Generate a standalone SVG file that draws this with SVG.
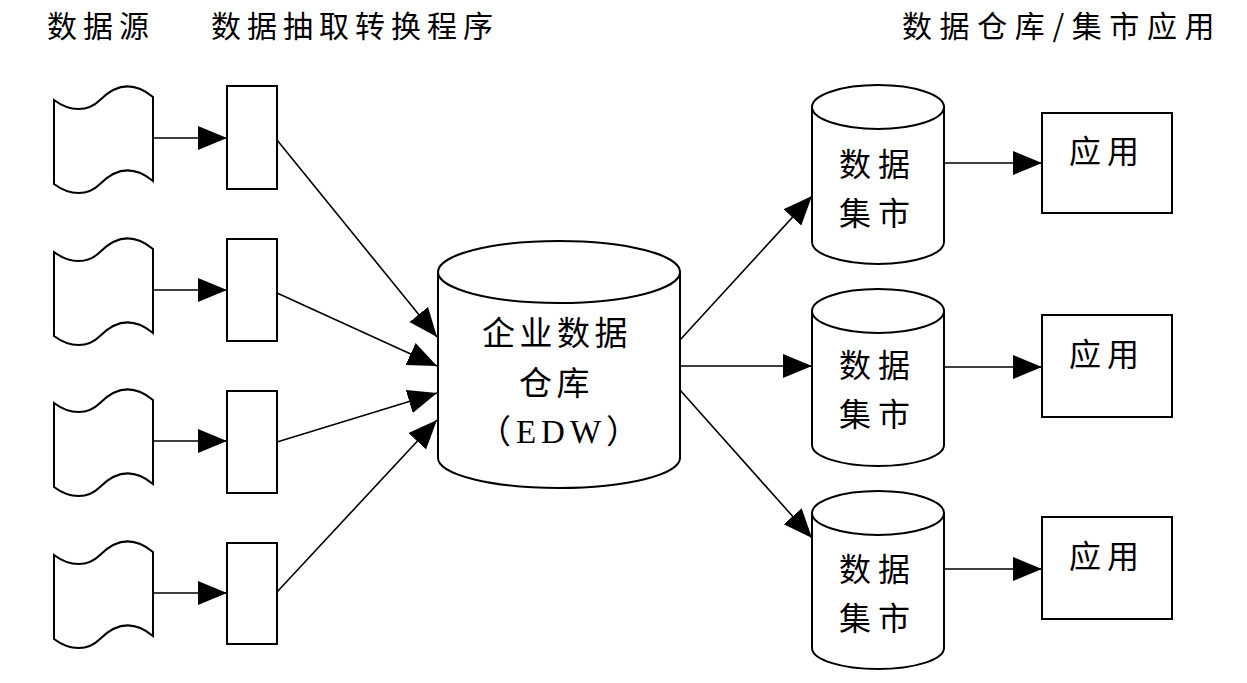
<svg xmlns="http://www.w3.org/2000/svg" xmlns:xlink="http://www.w3.org/1999/xlink" width="1247" height="683" viewBox="0 0 1247 683">
<style>
.shape{fill:#fff;stroke:#000;stroke-width:2}
.conn{fill:none;stroke:#000;stroke-width:1.6;marker-end:url(#arr)}
.t{font-family:"Noto Sans CJK SC","Noto Sans",sans-serif;fill:#000}
.title{font-size:30px;letter-spacing:6px}
.big{font-size:33px;letter-spacing:4.5px}
.mt{font-size:32px;letter-spacing:7px}
.app{font-size:32px;letter-spacing:6px}
</style>
<defs>
<marker id="arr" markerUnits="userSpaceOnUse" markerWidth="30" markerHeight="26" refX="29" refY="12" orient="auto">
<path d="M0,0 L29,12 L0,24 Z" fill="#000"/>
</marker>
<path id="doc" d="M54,-38 C70,-26 88,-26 100,-38 C112,-50 130,-60 153,-41 L153,43 C130,24 112,34 100,46 C88,58 70,58 54,46 Z"/>
</defs>
<rect width="1247" height="683" fill="#fff"/>
<g id="titles" class="t title">
<text x="47" y="37">数据源</text>
<text x="211" y="37">数据抽取转换程序</text>
<text x="902" y="37" letter-spacing="7.6">数据仓库/集市应用</text>
</g>
<g id="src1" transform="translate(0,138)"><use xlink:href="#doc" href="#doc" class="shape"/></g>
<g id="src2" transform="translate(0,290)"><use xlink:href="#doc" href="#doc" class="shape"/></g>
<g id="src3" transform="translate(0,441)"><use xlink:href="#doc" href="#doc" class="shape"/></g>
<g id="src4" transform="translate(0,593)"><use xlink:href="#doc" href="#doc" class="shape"/></g>
<g id="etl1"><rect class="shape" x="227" y="86" width="50" height="103"/></g>
<g id="etl2"><rect class="shape" x="227" y="239" width="50" height="102"/></g>
<g id="etl3"><rect class="shape" x="227" y="391" width="50" height="102"/></g>
<g id="etl4"><rect class="shape" x="227" y="543" width="50" height="101"/></g>
<g id="edw">
<path class="shape" d="M438,272 L438,458 A121,30 0 0 0 680,458 L680,272 Z"/>
<ellipse class="shape" cx="559" cy="272" rx="121" ry="31"/>
<text class="t big" x="482" y="345">企业数据</text>
<text class="t big" x="519" y="395">仓库</text>
<text class="t" x="561" y="443" text-anchor="middle" font-size="33" letter-spacing="5">（<tspan font-family="Liberation Serif,serif" font-size="33">EDW</tspan>）</text>
</g>
<g id="mart1">
<path class="shape" d="M812,107 L812,242 A66,22 0 0 0 944,242 L944,107 Z"/>
<ellipse class="shape" cx="878" cy="107" rx="66" ry="22"/>
<text class="t mt" x="839" y="176">数据</text>
<text class="t mt" x="839" y="225">集市</text>
</g>
<g id="mart2">
<path class="shape" d="M812,311 L812,445 A66,21 0 0 0 944,445 L944,311 Z"/>
<ellipse class="shape" cx="878" cy="311" rx="66" ry="22"/>
<text class="t mt" x="839" y="377">数据</text>
<text class="t mt" x="839" y="426">集市</text>
</g>
<g id="mart3">
<path class="shape" d="M812,513 L812,648 A66,21 0 0 0 944,648 L944,513 Z"/>
<ellipse class="shape" cx="878" cy="513" rx="66" ry="22"/>
<text class="t mt" x="839" y="581">数据</text>
<text class="t mt" x="839" y="630">集市</text>
</g>
<g id="app1"><rect class="shape" x="1042" y="113" width="130" height="100"/><text class="t app" x="1069" y="163">应用</text></g>
<g id="app2"><rect class="shape" x="1042" y="315" width="130" height="102"/><text class="t app" x="1069" y="366">应用</text></g>
<g id="app3"><rect class="shape" x="1042" y="517" width="130" height="102"/><text class="t app" x="1069" y="568">应用</text></g>
<g id="connectors">
<line class="conn" x1="153" y1="138" x2="227" y2="138"/>
<line class="conn" x1="153" y1="290" x2="227" y2="290"/>
<line class="conn" x1="153" y1="441" x2="227" y2="441"/>
<line class="conn" x1="153" y1="593" x2="227" y2="593"/>
<line class="conn" x1="277" y1="140" x2="437" y2="337"/>
<line class="conn" x1="277" y1="293" x2="437" y2="366"/>
<line class="conn" x1="277" y1="442" x2="437" y2="393"/>
<line class="conn" x1="277" y1="592" x2="437" y2="420"/>
<line class="conn" x1="680" y1="340" x2="812" y2="196"/>
<line class="conn" x1="680" y1="366" x2="812" y2="366"/>
<line class="conn" x1="680" y1="390" x2="812" y2="538"/>
<line class="conn" x1="944" y1="163" x2="1042" y2="163"/>
<line class="conn" x1="944" y1="367" x2="1042" y2="367"/>
<line class="conn" x1="944" y1="569" x2="1042" y2="569"/>
</g>
</svg>
